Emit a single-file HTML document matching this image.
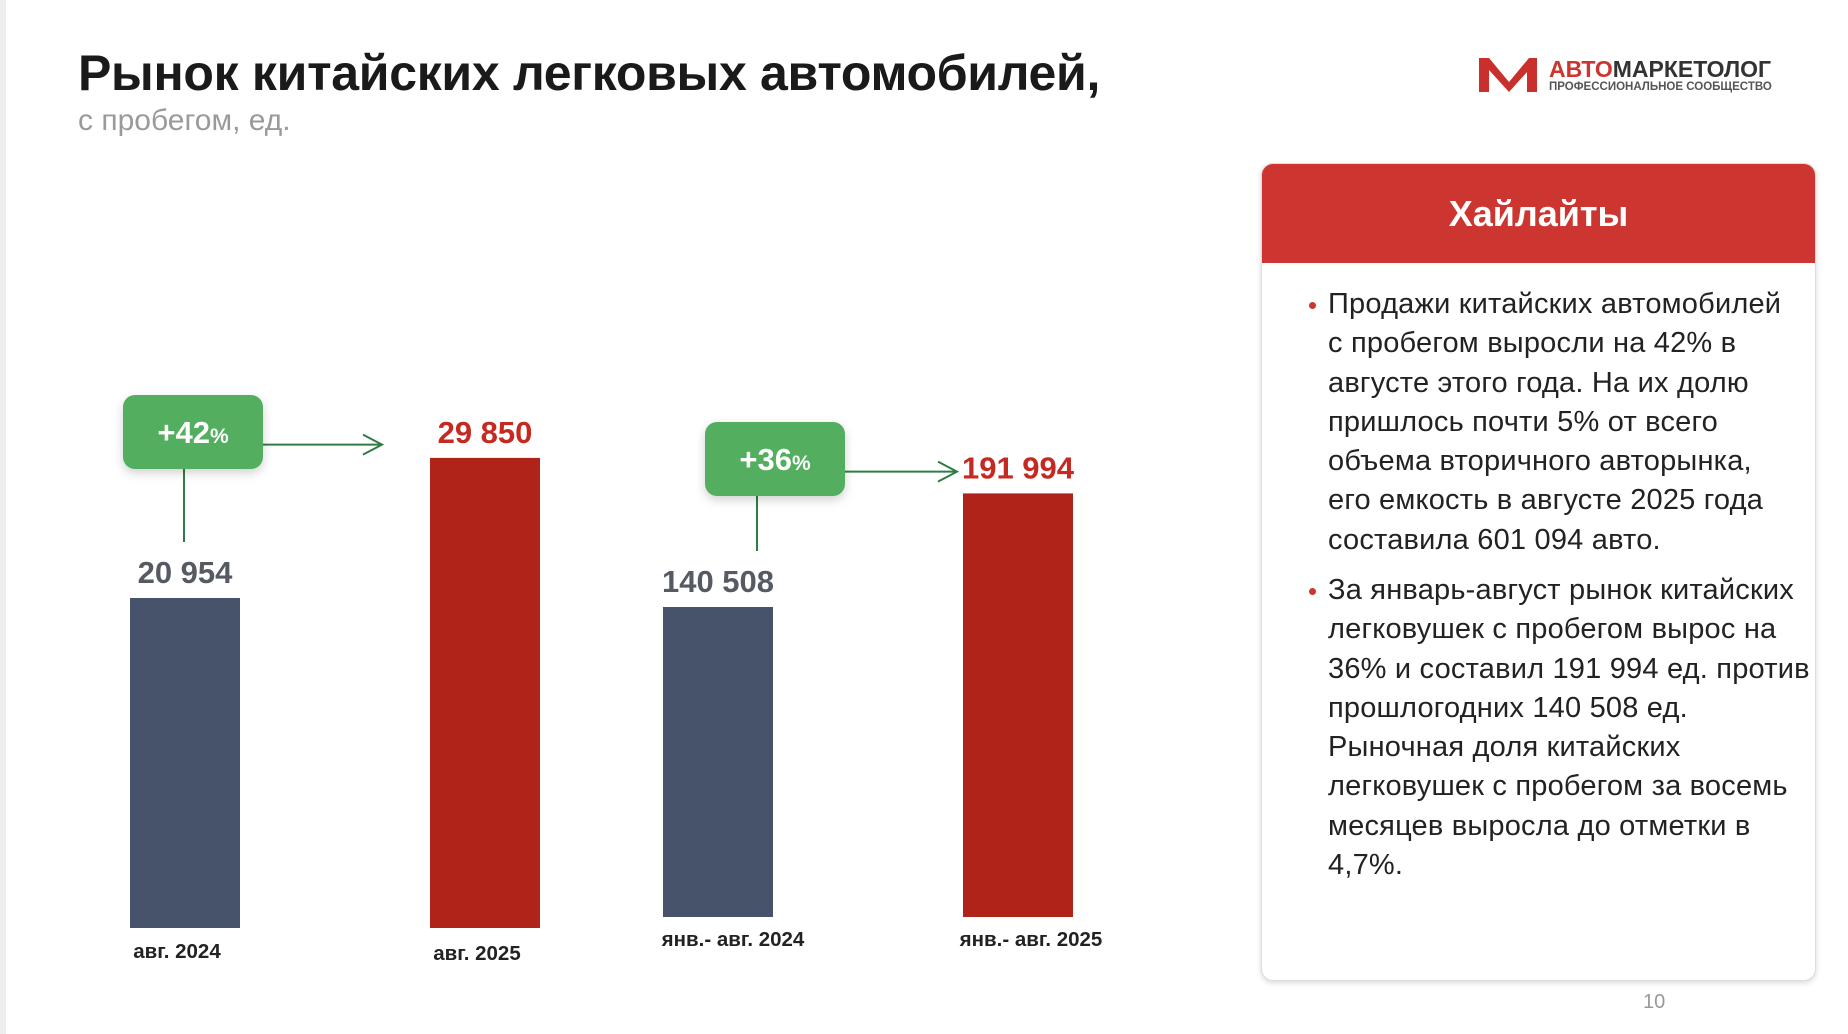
<!DOCTYPE html>
<html><head><meta charset="utf-8">
<style>
html,body{margin:0;padding:0;}
body{width:1848px;height:1034px;position:relative;background:#fff;overflow:hidden;font-family:"Liberation Sans","DejaVu Sans",sans-serif;}
.abs{position:absolute;}
#title{left:78px;top:44px;font-size:50px;font-weight:bold;color:#1a1a1a;letter-spacing:-0.3px;white-space:nowrap;}
#subtitle{left:78px;top:104px;font-size:30px;color:#9a9a9a;white-space:nowrap;}
#panel{left:1261px;top:163px;width:553px;height:816px;border:1px solid #ddd;border-radius:12px;box-shadow:0 2px 6px rgba(0,0,0,0.15);overflow:hidden;background:#fff;}
#panel-head{position:absolute;left:0;top:0;width:100%;height:99px;background:#cc3530;color:#fff;font-size:36px;font-weight:bold;text-align:center;line-height:99px;}
.bul{position:absolute;left:66px;font-size:29px;letter-spacing:0.2px;line-height:39.3px;color:#222;white-space:nowrap;}
.dot{position:absolute;left:-19px;top:17px;width:7px;height:7px;border-radius:50%;background:#cc3530;}
#pagenum{left:1643px;top:991px;font-size:20px;color:#999;}
#edge{left:0;top:0;width:6px;height:1034px;background:#eee;}
</style></head>
<body>
<div class="abs" id="edge"></div>
<div class="abs" id="title">Рынок китайских легковых автомобилей,</div>
<div class="abs" id="subtitle">с пробегом, ед.</div>

<div class="abs" style="left:1479px;top:56px;width:310px;height:40px;">
  <svg width="60" height="38" viewBox="0 0 60 38">
    <polygon points="0,2 10,2 30,26 50,2 58,2 58,36 48,36 48,16 30,36 10,14 10,36 0,36" fill="#c9302c"/>
  </svg>
  <div class="abs" style="left:70px;top:0;font-size:23px;font-weight:bold;white-space:nowrap;"><span style="color:#cc3530">АВТО</span><span style="color:#333">МАРКЕТОЛОГ</span></div>
  <div class="abs" style="left:70px;top:25px;font-size:11.5px;font-weight:bold;color:#555;white-space:nowrap;">ПРОФЕССИОНАЛЬНОЕ СООБЩЕСТВО</div>
</div>

<svg class="abs" id="chart" style="left:0;top:0" width="1240" height="1034"></svg>

<div class="abs" id="panel">
  <div id="panel-head">Хайлайты</div>
  <div class="bul" style="top:121px"><span class="dot"></span>Продажи китайских автомобилей<br>с пробегом выросли на 42% в<br>августе этого года. На их долю<br>пришлось почти 5% от всего<br>объема вторичного авторынка,<br>его емкость в августе 2025 года<br>составила 601 094 авто.</div>
  <div class="bul" style="top:407px"><span class="dot"></span>За январь-август рынок китайских<br>легковушек с пробегом вырос на<br>36% и составил 191 994 ед. против<br>прошлогодних 140 508 ед.<br>Рыночная доля китайских<br>легковушек с пробегом за восемь<br>месяцев выросла до отметки в<br>4,7%.</div>
</div>
<div class="abs" id="pagenum">10</div>

<script>
const categories = ["авг. 2024","авг. 2025","янв.- авг. 2024","янв.- авг. 2025"];
const values = [20954, 29850, 140508, 191994];
const valueLabels = ["20 954","29 850","140 508","191 994"];
const groupOf = [0,0,1,1];
const growthLabels = ["+42","+36"];

const NS="http://www.w3.org/2000/svg";
const svg=document.getElementById('chart');
const barX=[130,430,663,963], barW=110;
const baseY=[928,917];
const scale=[330/20954, 310/140508];
const colors=["#47536a","#b02318","#47536a","#b02318"];
const labelColors=["#555a63","#c42a22","#555a63","#c42a22"];
const catY=[958,960,946,946];
const catOff=[-8,-8,15,13];
function yOf(i){return baseY[groupOf[i]]-values[i]*scale[groupOf[i]];}
function mk(tag,attrs){const e=document.createElementNS(NS,tag);for(const k in attrs)e.setAttribute(k,attrs[k]);svg.appendChild(e);return e;}

const defs=mk('defs',{});
defs.innerHTML='<filter id="sh" x="-20%" y="-20%" width="140%" height="160%"><feDropShadow dx="0" dy="4" stdDeviation="5" flood-color="#000" flood-opacity="0.18"/></filter>';

values.forEach((v,i)=>{
  const y=yOf(i);
  const r=mk('rect',{x:barX[i],y:y,width:barW,height:baseY[groupOf[i]]-y,fill:colors[i]});
  
  
  const t=mk('text',{x:barX[i]+barW/2,y:y-15,'text-anchor':'middle','font-size':31,'font-weight':'bold',fill:labelColors[i]});
  t.textContent=valueLabels[i];
  
  
  const c=mk('text',{x:barX[i]+barW/2+catOff[i],y:catY[i],'text-anchor':'middle','font-size':20.5,'font-weight':'bold',fill:'#222'});
  c.textContent=categories[i];
  
  
});

[[0,1],[2,3]].forEach((pair,g)=>{
  const a=pair[0];
  const bx=[123,705][g], by=[395,422][g], bw=140, bh=74;
  const cx=[184,757][g];
  const lineTop=by+bh, lineBot=yOf(a)-56;
  const l=mk('line',{x1:cx,y1:lineTop,x2:cx,y2:lineBot,stroke:'#2f7d45','stroke-width':2});
  
  
  const ay=by+bh*0.67;
  const endX=[382,957][g];
  const ar=mk('path',{d:`M${bx+bw},${ay} L${endX},${ay} M${endX-19},${ay-10} L${endX},${ay} L${endX-19},${ay+10}`,stroke:'#2f7d45','stroke-width':2,fill:'none'});
  
  
  const rc=mk('rect',{x:bx,y:by,width:bw,height:bh,rx:12,fill:'#52ae5f',filter:'url(#sh)'});
  
  
  const t=mk('text',{x:bx+bw/2,y:by+bh/2+11,'text-anchor':'middle','font-size':31,'font-weight':'bold',fill:'#fff'});
  t.innerHTML=growthLabels[g]+'<tspan font-size="21">%</tspan>';
  
  
});
</script>
</body></html>
